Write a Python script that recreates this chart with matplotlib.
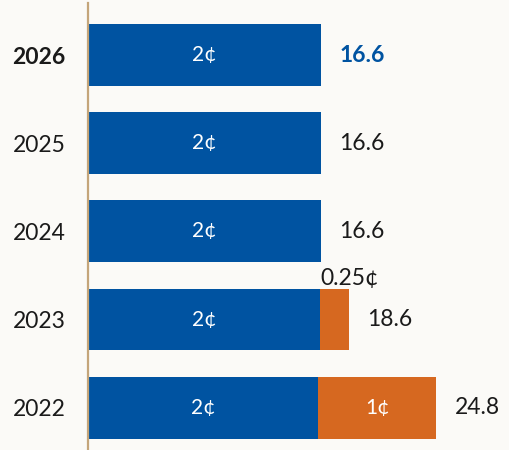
import matplotlib.pyplot as plt

plt.rcParams['font.family'] = ['Lato', 'DejaVu Sans']

# data
years = ["2026", "2025", "2024", "2023", "2022"]
base = [16.6, 16.6, 16.6, 16.5, 16.4]
extra = [0, 0, 0, 2.1, 8.4]
totals = ["16.6", "16.6", "16.6", "18.6", "24.8"]
base_labels = ["2¢", "2¢", "2¢", "2¢", "2¢"]
extra_labels = ["", "", "", "0.25¢", "1¢"]

blue = "#0053a1"
orange = "#d66820"
bg = "#fbfaf7"

fig = plt.figure(figsize=(5.1, 4.5), dpi=100, facecolor=bg)
ax = fig.add_axes([88 / 510, 0, 422 / 510, 447 / 450])
ax.set_facecolor(bg)

pos = list(range(len(years)))
ax.barh(pos, base, height=0.70, color=blue, left=0)
ax.barh(pos, extra, height=0.70, color=orange, left=base)

ax.set_xlim(0, 422 / 14.04)
ax.set_ylim(4.48, -0.59)

for i in pos:
    bold = i == 0
    end = base[i] + extra[i]
    ax.text(base[i] / 2, i, base_labels[i], color="white", fontsize=15,
            ha="center", va="center")
    ax.text(end + 1.3, i, totals[i], fontsize=16.5,
            color=blue if bold else "#1a1a1a",
            fontweight="bold" if bold else "normal",
            ha="left", va="center")
    if extra_labels[i] == "1¢":
        ax.text(base[i] + extra[i] / 2, i, extra_labels[i], color="white",
                fontsize=15, ha="center", va="center")
    elif extra_labels[i]:
        ax.text(base[i] + 0.05, i - 0.35, extra_labels[i], color="#1a1a1a",
                fontsize=16.5, ha="left", va="bottom")

ax.set_yticks(pos)
ax.set_yticklabels(years, fontsize=16.5, color="#1a1a1a")
ax.get_yticklabels()[0].set_fontweight("bold")
ax.tick_params(axis="y", length=0, pad=16)
ax.set_xticks([])

for s in ["top", "right", "bottom"]:
    ax.spines[s].set_visible(False)
ax.spines["left"].set_color("#c4a57a")
ax.spines["left"].set_linewidth(1.6)

fig.savefig("out.png", dpi=100, facecolor=bg)
